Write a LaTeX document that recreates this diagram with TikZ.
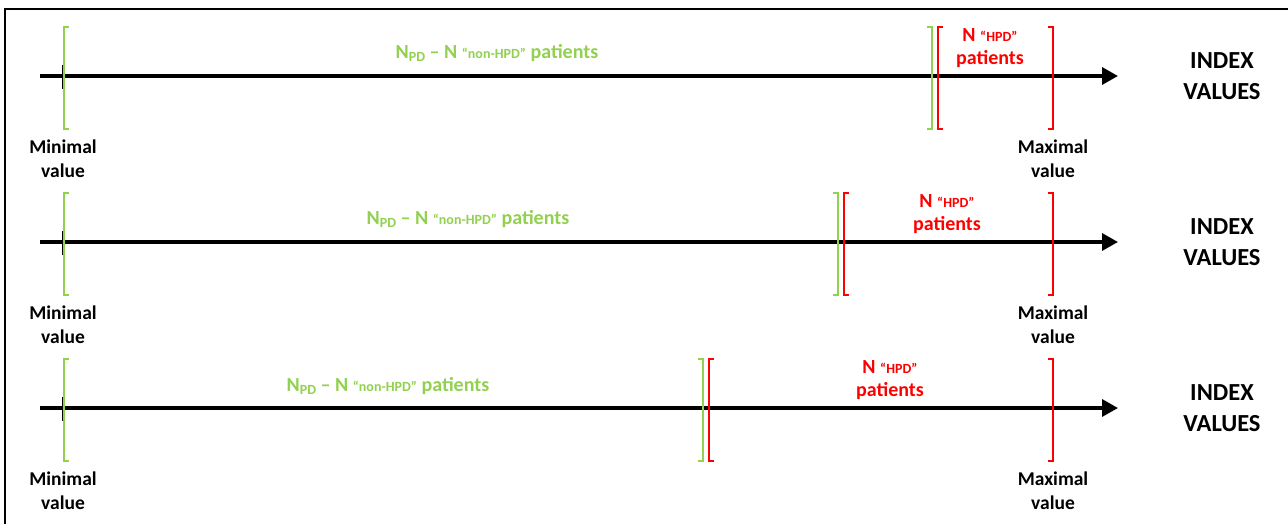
\documentclass[tikz,border=0pt]{standalone}
\usepackage{fontspec}
\setmainfont{Carlito}
\usetikzlibrary{arrows.meta}
\definecolor{hpdred}{RGB}{255,0,0}
\definecolor{pdgreen}{RGB}{146,208,80}
\newcommand{\hpdsmall}[1]{{\fontsize{14}{15}\selectfont #1}}

\begin{document}
\begin{tikzpicture}[x=1pt, y=-1pt,
  axis/.style={-{Triangle[length=16pt,width=17pt]}, line width=3.5pt},
  brk/.style={line width=2pt},
  lbl/.style={align=center, inner sep=0pt, font=\bfseries\fontsize{19.5}{24}\selectfont},
  idx/.style={align=center, inner sep=0pt, font=\bfseries\fontsize{24.5}{31}\selectfont},
  grp/.style={align=center, inner sep=0pt, font=\bfseries\fontsize{20}{23}\selectfont}
]
\useasboundingbox (0,0) rectangle (1288,524);
\draw[line width=1.5pt] (5,524) -- (5,9) -- (1288,9);

% one row per split of the index range
\foreach \r/\g/\gx/\rx/\gy in {0/932/497/990/53, 1/838/468/947/219, 2/703/388/890/386} {
  \begin{scope}[yshift=-166*\r pt]
    \coordinate (start\r) at (40,76);
    \coordinate (end\r) at (1118,76);
    \draw[axis] (start\r) -- (end\r);
    \draw[line width=1.5pt] (63,65) -- (63,89);
    % green part
    \draw[brk, pdgreen] (69,27) -- (64,27) -- (64,129) -- (69,129);
    \draw[brk, pdgreen] (\g-5,27) -- (\g,27) -- (\g,129) -- (\g-5,129);
    % red part
    \draw[brk, hpdred] (\g+11,27) -- (\g+6,27) -- (\g+6,129) -- (\g+11,129);
    \draw[brk, hpdred] (1048,27) -- (1053,27) -- (1053,129) -- (1048,129);
    \node[grp, pdgreen] (nonhpd\r) at (\gx,\gy-166*\r)
      {N\raisebox{-0.35ex}{\hpdsmall{PD}} -- N \hpdsmall{“non-HPD”} patients};
    \node[grp, hpdred] (hpd\r) at (\rx,48.5)
      {N \hpdsmall{“HPD”}\\patients};
    \node[lbl] (minval\r) at (63,159) {Minimal\\value};
    \node[lbl] (maxval\r) at (1053,159) {Maximal\\value};
    \node[idx] (index\r) at (1222,76) {INDEX\\VALUES};
  \end{scope}
}
\end{tikzpicture}
\end{document}
